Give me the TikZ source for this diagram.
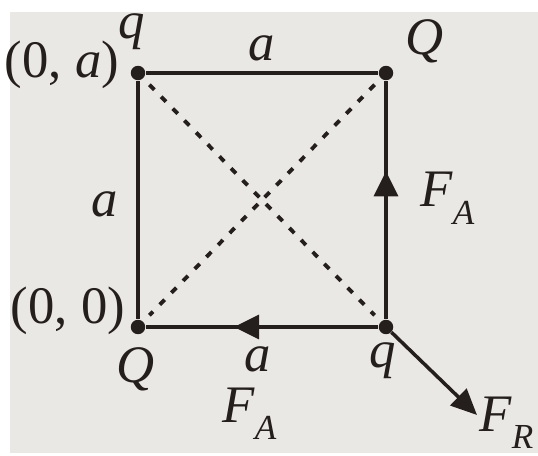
\documentclass[tikz,border=0pt]{standalone}
\usepackage{fontspec}
\setmainfont{Liberation Serif}
\usepackage{xcolor}
\usetikzlibrary{positioning,arrows.meta,decorations.markings}

\definecolor{paper}{RGB}{234,232,229}
\definecolor{ink}{RGB}{36,31,28}

\newcommand{\Flbl}[1]{\textit{F}\raisebox{-0.34em}{\fontsize{20}{22}\selectfont\textit{#1}}}

\begin{document}
\begin{tikzpicture}[
  x=0.02cm, y=-0.02cm,
  font=\fontsize{30}{34}\selectfont,
  >=Triangle,
  side/.style={ink, line width=2pt},
  diag/.style={ink, line width=2.2pt, dash pattern=on 4pt off 5.5pt, shorten <=5pt, shorten >=5pt},
  charge/.style={circle, fill=ink, inner sep=0pt, minimum size=0.29cm},
  lbl/.style={ink, inner sep=0pt},
  midarrow/.style={postaction={decorate}, decoration={markings,
    mark=at position #1 with {\arrow[ink]{Triangle[length=0.5cm, width=0.48cm]}}}},
]

% paper
\fill[white] (0,0) rectangle (538,456);
\fill[paper] (10,12) rectangle (538,453);
\useasboundingbox (0,0) rectangle (538,456);

% charges at the corners
\node[charge] (tl) at (138,73) {};
\node[charge] (tr) at (386,73) {};
\node[charge] (bl) at (138,327) {};
\node[charge] (br) at (386,327) {};
\coordinate (fr) at (477,415);

% sides and diagonals
\draw[side] (tl) -- (tr);
\draw[side] (tl) -- (bl);
\draw[side, midarrow=0.62] (br) -- (tr);
\draw[side, midarrow=0.62] (br) -- (bl);
\draw[diag] (tl) -- (br);
\draw[diag] (tr) -- (bl);

% resultant force
\draw[side, -{Triangle[length=0.52cm, width=0.46cm]}] (br) -- (fr);

% labels
\node[lbl, anchor=base] (qtop) at (132,39) {\textit{q}};
\node[lbl, anchor=base] (ptop) at (62,78) {(0, \textit{a})};
\node[lbl, anchor=base] (atop) at (262,61) {\textit{a}};
\node[lbl, anchor=base] (Qtop) at (425,55) {\textit{Q}};
\node[lbl, anchor=base] (aleft) at (105,216) {\textit{a}};
\node[lbl, anchor=base west] (fright) at (420,207) {\Flbl{A}};
\node[lbl, anchor=base] (pbot) at (68,323) {(0, 0)};
\node[lbl, anchor=base] (Qbot) at (136,382) {\textit{Q}};
\node[lbl, anchor=base] (abot) at (258,371) {\textit{a}};
\node[lbl, anchor=base] (qbot) at (383,367) {\textit{q}};
\node[lbl, anchor=base west] (fbot) at (222,422) {\Flbl{A}};
\node[lbl, anchor=base west] (fres) at (479,431) {\Flbl{R}};

\end{tikzpicture}
\end{document}
